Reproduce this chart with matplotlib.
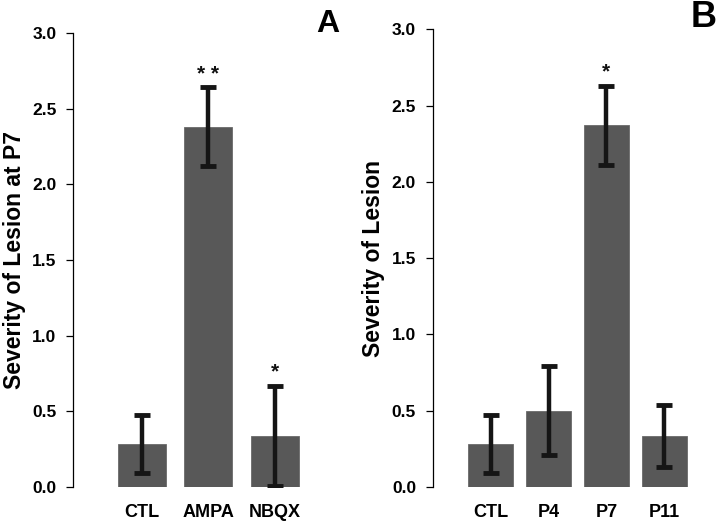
import matplotlib
matplotlib.use("Agg")
import matplotlib.pyplot as plt

plt.rcParams['font.family'] = ['Liberation Sans', 'DejaVu Sans']
plt.rcParams['font.weight'] = 'bold'

# panel A: treatment at P7
labels_a = ["CTL", "AMPA", "NBQX"]
means_a = [0.285, 2.38, 0.34]
errs_a = [0.19, 0.26, 0.33]
stars_a = ["", "* *", "*"]

# panel B: age at injection
labels_b = ["CTL", "P4", "P7", "P11"]
means_b = [0.28, 0.50, 2.37, 0.335]
errs_b = [0.19, 0.29, 0.26, 0.205]
stars_b = ["", "", "*", ""]

yticks = [0.0, 0.5, 1.0, 1.5, 2.0, 2.5, 3.0]

BAR = "#585858"
ERR = "#151515"


def draw_panel(ax, labels, means, errs, stars, width, xlim, ylabel, label_x,
               letter, letter_xy, letter_size):
    x = list(range(len(labels)))
    ax.bar(x, means, width=width, color=BAR, edgecolor="#6a6a6a", linewidth=0.6, zorder=2)
    ax.errorbar(x, means, yerr=errs, fmt="none", ecolor=ERR, elinewidth=3.2,
                capsize=6, capthick=3.5, zorder=3)
    for xi, m, e, s in zip(x, means, errs, stars):
        if s:
            ax.text(xi, m + e + 0.025, s, ha="center", va="bottom", fontsize=15,
                    fontweight="bold", color="#111111")
    ax.set_xlim(*xlim)
    ax.set_ylim(0, 3.0)
    ax.set_yticks(yticks)
    ax.set_yticklabels([f"{t:.1f}" for t in yticks], fontweight="bold")
    ax.set_xticks(x)
    ax.set_xticklabels(labels, fontweight="bold")
    for sp in ["top", "right", "bottom"]:
        ax.spines[sp].set_visible(False)
    ax.spines["left"].set_linewidth(0.9)
    ax.tick_params(axis="y", length=5, width=0.9, labelsize=12.5, pad=7)
    ax.tick_params(axis="x", length=0, labelsize=13, pad=12)
    ax.set_ylabel(ylabel, fontsize=16.5, fontweight="bold")
    ax.yaxis.set_label_coords(label_x, 0.5)
    ax.text(letter_xy[0], letter_xy[1], letter, transform=ax.transAxes,
            fontsize=letter_size, fontweight="heavy", ha="center", va="center")


fig = plt.figure(figsize=(7.2, 5.22), dpi=100)
ax_a = fig.add_axes([0.1014, 0.067, 0.35, 0.870])
ax_b = fig.add_axes([0.601, 0.067, 0.378, 0.877])

draw_panel(ax_a, labels_a, means_a, errs_a, stars_a, 0.72, (-1.03, 2.75),
           "Severity of Lesion at P7", -0.186, "A", (1.012, 1.02), 23)
draw_panel(ax_b, labels_b, means_b, errs_b, stars_b, 0.78, (-1.0, 3.7),
           "Severity of Lesion", -0.174, "B", (0.996, 1.026), 26)

fig.savefig("out.png", dpi=100)
